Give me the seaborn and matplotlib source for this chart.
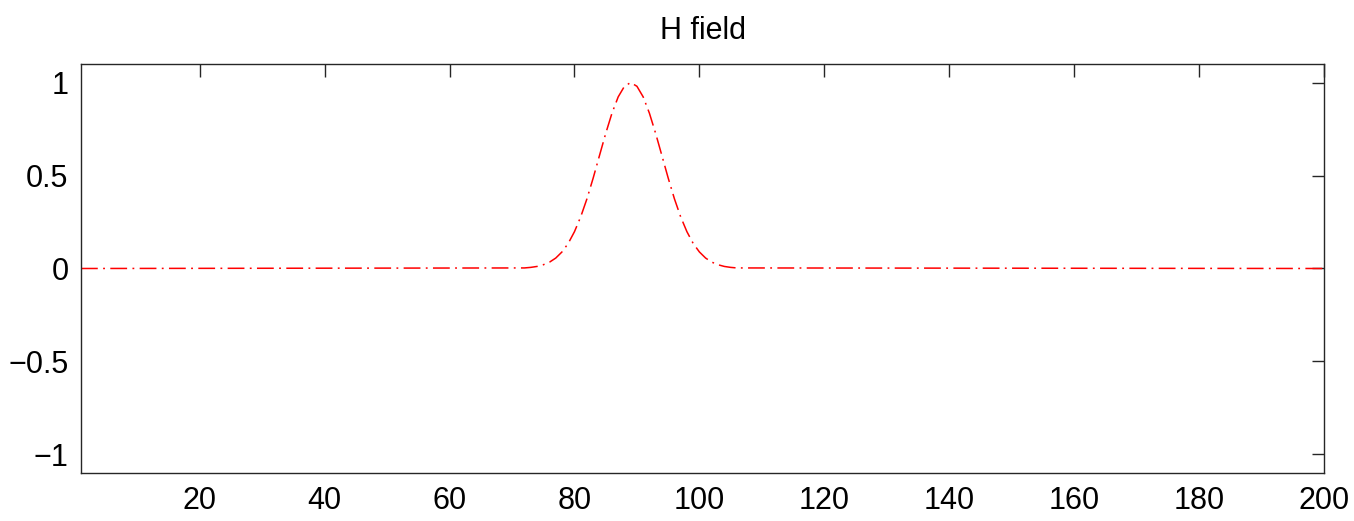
import matplotlib
matplotlib.use('Agg')
import matplotlib.pyplot as plt
import seaborn as sns

RED = '#ff0000'
AXIS = '#262626'

# pulse (zero outside 72..106)
x_pts = [1, 72, 73, 74, 75, 76, 77, 78, 79, 80, 81, 82, 83, 84, 85, 86, 87, 88,
         89, 90, 91, 92, 93, 94, 95, 96, 97, 98, 99, 100, 101, 102, 103, 104,
         105, 106, 200]
h_vals = [0.0, 0.003, 0.006, 0.011, 0.020, 0.034, 0.056, 0.089, 0.135, 0.198,
          0.278, 0.375, 0.487, 0.607, 0.726, 0.835, 0.923, 0.980,
          1.0, 0.980, 0.923, 0.835, 0.726, 0.607, 0.487, 0.375, 0.278, 0.198,
          0.135, 0.089, 0.056, 0.034, 0.020, 0.011, 0.006, 0.003, 0.0]

x_ticks = [20, 40, 60, 80, 100, 120, 140, 160, 180, 200]
y_ticks = [-1, -0.5, 0, 0.5, 1]
y_labels = ['\u22121', '\u22120.5', '0', '0.5', '1']

sns.set_style('white')
plt.rcParams['font.family'] = ['Liberation Sans', 'DejaVu Sans']

fig = plt.figure(figsize=(13.54, 5.21), dpi=100)
ax = fig.add_axes([0.0598, 0.0921, 0.9181, 0.7851])

sns.lineplot(x=x_pts, y=h_vals, ax=ax, color=RED, linewidth=1.1)
ax.lines[0].set_linestyle((0, (11, 3.5, 1.2, 3.5)))

ax.set_xlim(1, 200)
ax.set_ylim(-1.1, 1.1)
ax.set_xticks(x_ticks)
ax.set_xticklabels([str(v) for v in x_ticks])
ax.set_yticks(y_ticks)
ax.set_yticklabels(y_labels)

ax.tick_params(direction='in', length=9, width=1, colors=AXIS,
               labelcolor='black', labelsize=22, pad=9,
               top=True, right=True)
for s in ax.spines.values():
    s.set_visible(True)
    s.set_color(AXIS)
    s.set_linewidth(1)

ax.set_title('H field', fontsize=22, pad=18, color='black')
ax.set_xlabel('')
ax.set_ylabel('')

fig.savefig('out.png', dpi=100)
